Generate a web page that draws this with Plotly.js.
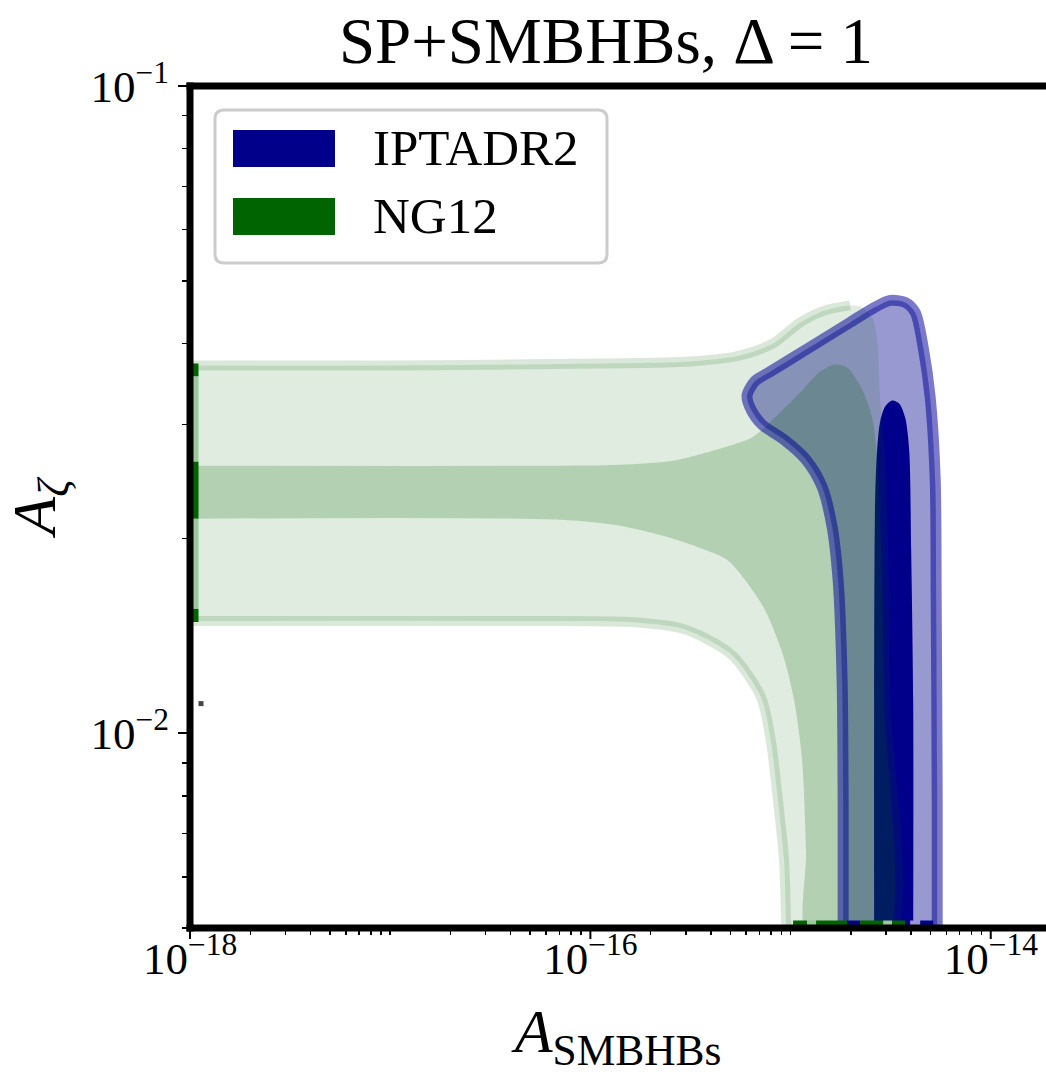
<!DOCTYPE html>
<html>
<head>
<meta charset="utf-8">
<script src="https://cdn.plot.ly/plotly-3.0.1.min.js"></script>
<style>
html,body{margin:0;padding:0;background:#fff;overflow:hidden}
#chart{width:1046px;height:1074px}
</style>
</head>
<body>
<div id="chart"></div>
<script>
// ---------------- DATA (log10 values) ----------------
const seriesNames = ['IPTADR2', 'NG12'];

// NG12 2-sigma region: upper edge (left -> right, then down the right side)
const ng12_2s_upper_log10A = [-18.05, -16.9525, -15.9525, -15.5025, -15.2525, -15.0875, -14.9525, -14.8275, -14.7025, -14.6425, -14.5925, -14.5675, -14.5525, -14.5325, -14.5125, -14.5025, -14.4925];
const ng12_2s_upper_log10Z = [-1.4319, -1.4319, -1.4288, -1.4257, -1.4164, -1.3978, -1.3653, -1.3467, -1.3390, -1.3421, -1.3576, -1.3916, -1.4845, -1.5619, -1.7167, -1.9489, -2.3204];
// NG12 2-sigma region: lower edge (left -> right, then down to the bottom)
const ng12_2s_lower_log10A = [-18.05, -16.4525, -15.8025, -15.5525, -15.4275, -15.2875, -15.1475, -15.0975, -15.0675, -15.0325, -15.0225, -15.0175];
const ng12_2s_lower_log10Z = [-1.8266, -1.8266, -1.8282, -1.8375, -1.8529, -1.8808, -1.9443, -2.0139, -2.0913, -2.1966, -2.2895, -2.3204];

// NG12 1-sigma region
const ng12_1s_upper_log10A = [-18.05, -16.2525, -15.8525, -15.5875, -15.3375, -15.1875, -15.0525, -14.9525, -14.8525, -14.7775, -14.7175, -14.6425, -14.5925, -14.5675, -14.5475, -14.5325, -14.5275];
const ng12_1s_upper_log10Z = [-1.5867, -1.5867, -1.5851, -1.5789, -1.5588, -1.5418, -1.5046, -1.4737, -1.4412, -1.4303, -1.4350, -1.4690, -1.5124, -1.5774, -1.7167, -1.9489, -2.3204];
const ng12_1s_lower_log10A = [-18.05, -16.1525, -15.8525, -15.6025, -15.4275, -15.3175, -15.2275, -15.1275, -15.0375, -14.9825, -14.9425, -14.9225, -14.9125];
const ng12_1s_lower_log10Z = [-1.6687, -1.6703, -1.6796, -1.6981, -1.7167, -1.7322, -1.7632, -1.8096, -1.8793, -1.9489, -2.0418, -2.1811, -2.3204];

// IPTADR2 2-sigma region (closed contour)
const ipta_2s_log10A = [-14.7375, -14.7375, -14.7425, -14.7625, -14.7925, -14.8425, -14.9225, -15.0325, -15.1425, -15.1975, -15.2175, -15.1775, -15.1025, -14.9025, -14.7025, -14.5775, -14.5025, -14.4275, -14.3775, -14.3375, -14.3025, -14.2775, -14.2725, -14.2675, -14.2675];
const ipta_2s_log10Z = [-2.3204, -2.1037, -1.9180, -1.7632, -1.6811, -1.6192, -1.5774, -1.5464, -1.5232, -1.5000, -1.4783, -1.4559, -1.4415, -1.4034, -1.3653, -1.3416, -1.3313, -1.3344, -1.3498, -1.4040, -1.4814, -1.6084, -1.7941, -2.1037, -2.3204];

// IPTADR2 1-sigma region (closed contour)
const ipta_1s_log10A = [-14.5825, -14.5825, -14.5775, -14.5675, -14.5525, -14.5275, -14.4925, -14.4575, -14.4275, -14.4075, -14.3975, -14.3875, -14.3875];
const ipta_1s_log10Z = [-2.3204, -1.9489, -1.6393, -1.5619, -1.5186, -1.4954, -1.4861, -1.4907, -1.5124, -1.5619, -1.7167, -1.9489, -2.3204];

// contour-edge marks along the left border (A_SMBHBs fixed, A_zeta spans)
const leftMark_log10A = -17.9725;
const leftMark_fromZ = [-1.4288, -1.4489, -1.5805, -1.6687, -1.8080];
const leftMark_toZ   = [-1.4489, -1.5805, -1.6687, -1.8080, -1.8282];
const leftMark_kind  = ['ngDark', 'ngLight', 'ngDark', 'ngLight', 'ngDark'];

// contour-edge marks along the bottom border
const bottomMark_log10Z = -2.2933;
const bottomMark_fromA = [-14.9875, -14.9175, -14.8725, -14.7175, -14.6525, -14.5375, -14.4925, -14.4275, -14.4025, -14.3525];
const bottomMark_toA   = [-14.9175, -14.8725, -14.7175, -14.6525, -14.5375, -14.4925, -14.4275, -14.4025, -14.3525, -14.2875];
const bottomMark_kind  = ['ngDark', 'ngLight', 'ngDark', 'iptaDark', 'ngDark', 'ngLight', 'ngDark', 'iptaDark', 'iptaLight', 'iptaDark'];

// stray point
const stray_log10A = [-17.945];
const stray_log10Z = [-1.9543];

// axis ticks
const xRangeLog = [-18, -13.724];
const yRangeLog = [-2.30103, -1];
const xTickVals = [1e-18, 1e-16, 1e-14];
const xTickText = ['10<sup>\u221218</sup>', '10<sup>\u221216</sup>', '10<sup>\u221214</sup>'];
const yTickVals = [1e-2, 1e-1];
const yTickText = ['10<sup>\u22122</sup>', '10<sup>\u22121</sup>'];

// ---------------- STYLE ----------------
const FONT = 'Liberation Serif, Times New Roman, serif';
const markColor = {
  ngDark: 'rgb(0,100,0)', ngLight: 'rgb(155,200,155)',
  iptaDark: 'rgb(0,0,139)', iptaLight: 'rgb(150,150,210)'
};

const p10 = v => Math.pow(10, v);
const pw = arr => arr.map(p10);

const traces = [];
// IPTADR2 2 sigma fill
traces.push({
  x: pw(ipta_2s_log10A), y: pw(ipta_2s_log10Z), type: 'scatter', mode: 'lines',
  fill: 'toself', fillcolor: 'rgba(0,0,139,0.40)',
  line: {color: 'rgba(0,0,0,0)', width: 0, shape: 'spline', smoothing: 0.8},
  name: seriesNames[0], showlegend: false, hoverinfo: 'skip'
});
// IPTADR2 1 sigma
traces.push({
  x: pw(ipta_1s_log10A), y: pw(ipta_1s_log10Z), type: 'scatter', mode: 'lines',
  fill: 'toself', fillcolor: 'rgb(0,0,139)',
  line: {color: 'rgba(0,0,139,0)', width: 0, shape: 'spline', smoothing: 0.8},
  name: seriesNames[0], showlegend: false, hoverinfo: 'skip'
});
// NG12 2 sigma fill
traces.push({
  x: pw(ng12_2s_upper_log10A.concat(ng12_2s_lower_log10A.slice().reverse())),
  y: pw(ng12_2s_upper_log10Z.concat(ng12_2s_lower_log10Z.slice().reverse())),
  type: 'scatter', mode: 'lines', fill: 'toself', fillcolor: 'rgba(0,100,0,0.12)',
  line: {color: 'rgba(0,0,0,0)', width: 0, shape: 'spline', smoothing: 0.8},
  name: seriesNames[1], showlegend: false, hoverinfo: 'skip'
});
// NG12 2 sigma contour lines
traces.push({
  x: pw(ng12_2s_upper_log10A.slice(0, 9)), y: pw(ng12_2s_upper_log10Z.slice(0, 9)),
  type: 'scatter', mode: 'lines',
  line: {color: 'rgba(0,100,0,0.15)', width: 10, shape: 'spline', smoothing: 0.8},
  showlegend: false, hoverinfo: 'skip'
});
traces.push({
  x: pw(ng12_2s_lower_log10A), y: pw(ng12_2s_lower_log10Z),
  type: 'scatter', mode: 'lines',
  line: {color: 'rgba(0,100,0,0.15)', width: 10, shape: 'spline', smoothing: 0.8},
  showlegend: false, hoverinfo: 'skip'
});
// NG12 1 sigma fill
traces.push({
  x: pw(ng12_1s_upper_log10A.concat(ng12_1s_lower_log10A.slice().reverse())),
  y: pw(ng12_1s_upper_log10Z.concat(ng12_1s_lower_log10Z.slice().reverse())),
  type: 'scatter', mode: 'lines', fill: 'toself', fillcolor: 'rgba(0,100,0,0.20)',
  line: {color: 'rgba(0,0,0,0)', width: 0, shape: 'spline', smoothing: 0.8},
  name: seriesNames[1], showlegend: false, hoverinfo: 'skip'
});
// IPTADR2 2 sigma contour line (drawn on top)
traces.push({
  x: pw(ipta_2s_log10A), y: pw(ipta_2s_log10Z), type: 'scatter', mode: 'lines',
  line: {color: 'rgba(0,0,150,0.52)', width: 11, shape: 'spline', smoothing: 0.8},
  showlegend: false, hoverinfo: 'skip'
});
// edge marks
leftMark_fromZ.forEach((z0, i) => {
  traces.push({
    x: [p10(leftMark_log10A), p10(leftMark_log10A)], y: [p10(z0), p10(leftMark_toZ[i])],
    type: 'scatter', mode: 'lines', line: {color: markColor[leftMark_kind[i]], width: 6},
    showlegend: false, hoverinfo: 'skip'
  });
});
bottomMark_fromA.forEach((a0, i) => {
  traces.push({
    x: [p10(a0), p10(bottomMark_toA[i])], y: [p10(bottomMark_log10Z), p10(bottomMark_log10Z)],
    type: 'scatter', mode: 'lines', line: {color: markColor[bottomMark_kind[i]], width: 5},
    showlegend: false, hoverinfo: 'skip'
  });
});
traces.push({
  x: pw(stray_log10A), y: pw(stray_log10Z), type: 'scatter', mode: 'markers',
  marker: {symbol: 'square', size: 5, color: 'rgb(70,70,70)'}, showlegend: false, hoverinfo: 'skip'
});

// minor tick positions
function minorVals(e0, e1, majors) {
  const out = [];
  for (let e = e0; e <= e1; e++) for (let d = 1; d <= 9; d++) {
    const v = d * Math.pow(10, e);
    if (!majors.some(m => Math.abs(m - v) / m < 1e-9)) out.push(v);
  }
  return out;
}

// ---------------- LAYOUT ----------------
const W = 856, H = 842; // plot area size in px
const px = v => v / W, py = v => v / H;

// legend box (paper coordinates)
const lx0 = px(25), lx1 = px(417), ly0 = py(928 - 263), ly1 = py(928 - 110);
const rx = px(9), ry = py(9);
const legendPath = `M ${lx0 + rx},${ly1} L ${lx1 - rx},${ly1} Q ${lx1},${ly1} ${lx1},${ly1 - ry} L ${lx1},${ly0 + ry} Q ${lx1},${ly0} ${lx1 - rx},${ly0} L ${lx0 + rx},${ly0} Q ${lx0},${ly0} ${lx0},${ly0 + ry} L ${lx0},${ly1 - ry} Q ${lx0},${ly1} ${lx0 + rx},${ly1} Z`;

const shapes = [
  {type: 'path', xref: 'paper', yref: 'paper', path: legendPath,
   fillcolor: 'rgba(255,255,255,0.85)', line: {color: 'rgb(204,204,204)', width: 3}, layer: 'above'},
  {type: 'rect', xref: 'paper', yref: 'paper', x0: px(43), x1: px(145), y0: py(928 - 167), y1: py(928 - 130),
   fillcolor: 'rgb(0,0,139)', line: {width: 0}, layer: 'above'},
  {type: 'rect', xref: 'paper', yref: 'paper', x0: px(43), x1: px(145), y0: py(928 - 235), y1: py(928 - 198),
   fillcolor: 'rgb(0,100,0)', line: {width: 0}, layer: 'above'},
  // spines
  {type: 'line', xref: 'paper', yref: 'paper', x0: 0, x1: 0, y0: -py(3.5), y1: 1 + py(3.5),
   line: {color: 'black', width: 7}, layer: 'above'},
  {type: 'line', xref: 'paper', yref: 'paper', x0: -px(3.5), x1: 1.02, y0: 1, y1: 1,
   line: {color: 'black', width: 7}, layer: 'above'},
  {type: 'line', xref: 'paper', yref: 'paper', x0: -px(3.5), x1: 1.02, y0: 0, y1: 0,
   line: {color: 'black', width: 7}, layer: 'above'}
];
// major x ticks (outside, below the spine)
xTickVals.forEach(v => {
  const xp = (Math.log10(v) - xRangeLog[0]) / (xRangeLog[1] - xRangeLog[0]);
  shapes.push({type: 'line', xref: 'paper', yref: 'paper', x0: xp, x1: xp, y0: 0, y1: -py(11),
               line: {color: 'black', width: 2}, layer: 'above'});
});

const annotations = [
  {xref: 'paper', yref: 'paper', x: px(181), y: py(928 - 148), xanchor: 'left', yanchor: 'middle',
   text: seriesNames[0], showarrow: false, font: {family: FONT, size: 51, color: 'black'}},
  {xref: 'paper', yref: 'paper', x: px(181), y: py(928 - 216), xanchor: 'left', yanchor: 'middle',
   text: seriesNames[1], showarrow: false, font: {family: FONT, size: 51, color: 'black'}}
];

const layout = {
  width: 1046, height: 1074,
  margin: {l: 190, r: 0, t: 86, b: 146, pad: 0},
  paper_bgcolor: 'white', plot_bgcolor: 'white',
  showlegend: false,
  title: {text: 'SP+SMBHBs, \u0394 = 1', font: {family: FONT, size: 65, color: 'black'},
          xref: 'container', x: 606 / 1046, xanchor: 'center',
          yref: 'container', y: 1 - 40 / 1074, yanchor: 'middle'},
  xaxis: {
    type: 'log', range: xRangeLog, autorange: false,
    showgrid: false, zeroline: false, showline: false,
    tickmode: 'array', tickvals: xTickVals, ticktext: xTickText,
    ticks: 'inside', ticklen: 11, tickwidth: 2, tickcolor: 'rgba(0,0,0,0)',
    tickfont: {family: FONT, size: 45, color: 'black'},
    minor: {tickmode: 'array', tickvals: minorVals(-19, -14, xTickVals), ticks: 'outside',
            ticklen: 6, tickwidth: 1.5, tickcolor: 'black', showgrid: false},
    title: {text: '<i>A</i><sub>SMBHBs</sub>', font: {family: FONT, size: 62, color: 'black'}, standoff: 52}
  },
  yaxis: {
    type: 'log', range: yRangeLog, autorange: false,
    showgrid: false, zeroline: false, showline: false,
    tickmode: 'array', tickvals: yTickVals, ticktext: yTickText,
    ticks: 'outside', ticklen: 11, tickwidth: 2, tickcolor: 'black',
    tickfont: {family: FONT, size: 45, color: 'black'},
    minor: {tickmode: 'array', tickvals: minorVals(-3, -1, yTickVals), ticks: 'outside',
            ticklen: 7, tickwidth: 1.5, tickcolor: 'black', showgrid: false},
    title: {text: '<i>A</i><sub><i>\u03b6</i></sub>', font: {family: FONT, size: 62, color: 'black'}, standoff: 20}
  },
  shapes: shapes,
  annotations: annotations
};

Plotly.newPlot('chart', traces, layout, {displayModeBar: false, staticPlot: true});
</script>
</body>
</html>
